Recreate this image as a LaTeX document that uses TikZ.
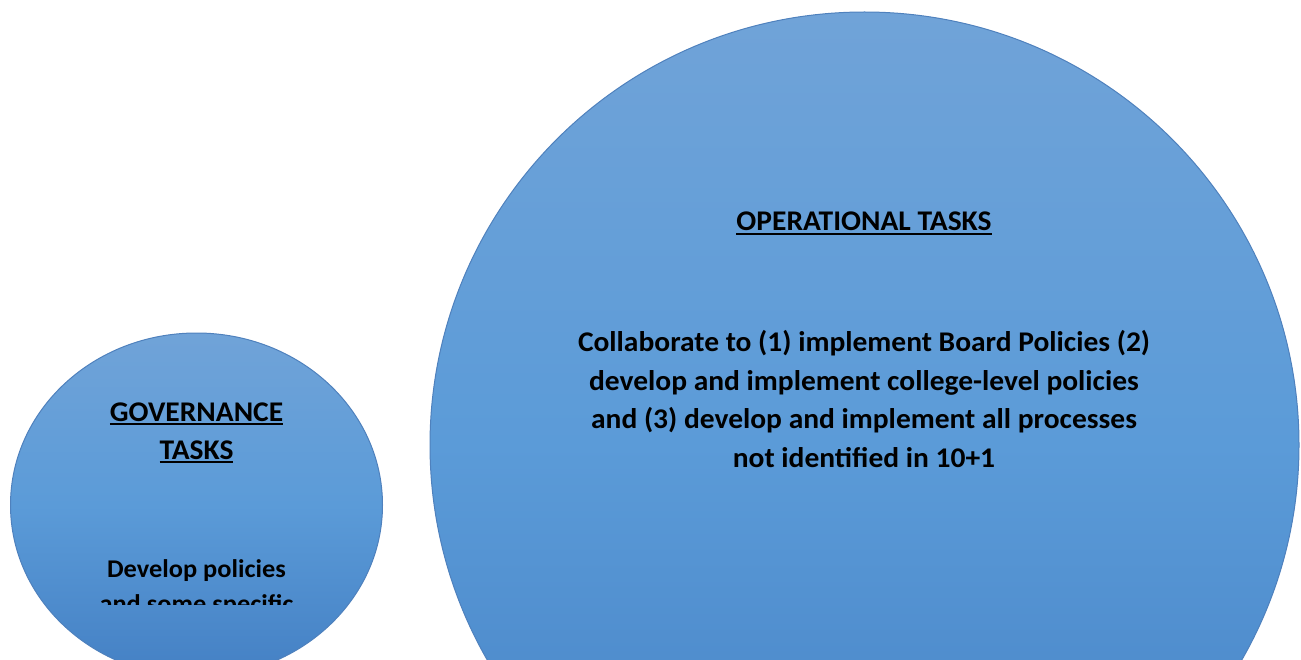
\documentclass[tikz,border=0pt]{standalone}
\usepackage{fontspec}
\setmainfont{Carlito}[FakeStretch=1.035]
\usetikzlibrary{shapes.geometric}
\definecolor{blueTop}{RGB}{112,163,216}
\definecolor{blueMid}{RGB}{91,155,216}
\definecolor{blueBot}{RGB}{68,128,196}
\definecolor{blueEdge}{RGB}{79,129,189}
\newcommand\ulx[1]{\setbox0\hbox{#1}\rlap{\raisebox{-4pt}{\rule{\wd0}{2pt}}}\box0}
\tikzset{
  blob/.style={ellipse, draw=blueEdge, line width=1pt, top color=blueTop, bottom color=blueBot, middle color=blueMid, inner sep=0pt},
  txt/.style={inner sep=0pt, anchor=base, font=\fontsize{28.5}{38}\selectfont\bfseries, text=black},
  smalltxt/.style={txt, font=\fontsize{25.5}{34}\selectfont\bfseries}
}
\begin{document}
\begin{tikzpicture}[x=1pt,y=-1pt]
\useasboundingbox (0,0) rectangle (1301,660);
\begin{scope}
\clip (0,0) rectangle (1301,660);
\node[blob, minimum width=372pt, minimum height=344pt] (gov) at (196.5,505) {};
\node[blob, minimum width=869pt, minimum height=866pt] (ops) at (864.5,445) {};
\end{scope}
% operational text
\node[txt] (opt) at (864,231) {\ulx{OPERATIONAL TASKS}};
\node[txt] (o1) at (864,351.5) {Collaborate to (1) implement Board Policies (2)};
\node[txt] (o2) at (864,390) {develop and implement college-level policies};
\node[txt] (o3) at (864,428.5) {and (3) develop and implement all processes};
\node[txt] (o4) at (864,467) {not identified in 10+1};
% governance text
\node[txt] (g1) at (196.5,421) {\ulx{GOVERNANCE}};
\node[txt] (g2) at (196.5,459) {\ulx{TASKS}};
\node[smalltxt] (g3) at (196.5,577) {Develop policies};
\begin{scope}
\clip (0,0) rectangle (1301,604);
\node[smalltxt] (g4) at (196.5,612) {and some specific};
\end{scope}
\end{tikzpicture}
\end{document}
